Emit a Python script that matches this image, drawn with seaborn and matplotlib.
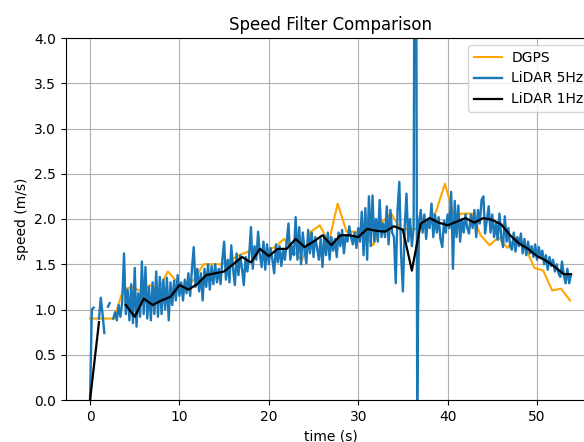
import numpy as np
import pandas as pd
import matplotlib
matplotlib.use("Agg")
import matplotlib.pyplot as plt
import seaborn as sns

# DGPS reference speed (about 1 Hz)
dgps_time = np.r_[0.0, np.arange(1.7, 54.0, 1.0)]
dgps_speed = [
    0.90, 0.90, 0.90, 1.22, 1.25, 1.20, 1.27, 1.22, 1.42, 1.31,
    1.24, 1.34, 1.50, 1.50, 1.50, 1.55, 1.60, 1.64, 1.68, 1.65,
    1.69, 1.78, 1.65, 1.54, 1.86, 1.93, 1.74, 2.17, 1.86, 1.86,
    1.82, 1.71, 1.97, 2.06, 1.89, 1.89, 1.89, 1.96, 2.08, 2.39,
    2.04, 2.06, 2.06, 1.82, 1.71, 1.80, 1.68, 1.80, 1.69, 1.46,
    1.43, 1.21, 1.23, 1.10,
]

# LiDAR speed at 5 Hz (NaN = no estimate)
nan = np.nan
lidar5_time = np.arange(270) * 0.2
lidar5_speed = [
    0.00, 1.00, 1.02, nan, nan, 0.90, 1.13, 0.95, 0.74, nan,
    1.03, 1.07, nan, 0.90, 0.97, 0.88, 1.05, 0.92, 1.08, 1.62,
    0.95, 1.22, 0.88, 1.28, 0.85, 1.46, 0.81, 1.18, 0.92, 1.53,
    0.95, 1.47, 0.90, 1.25, 0.88, 1.30, 0.95, 1.42, 0.92, 1.36,
    0.95, 1.33, 1.00, 1.35, 0.88, 1.30, 1.05, 1.32, 1.10, 1.38,
    1.15, 1.30, 1.10, 1.33, 1.18, 1.40, 1.15, 1.45, 1.69, 1.25,
    1.45, 1.20, 1.40, 1.10, 1.45, 1.25, 1.50, 1.22, 1.48, 1.28,
    1.50, 1.30, 1.45, 1.28, 1.55, 1.75, 1.33, 1.55, 1.30, 1.71,
    1.45, 1.27, 1.62, 1.38, 1.60, 1.45, 1.27, 1.58, 1.42, 1.60,
    1.91, 1.45, 1.70, 1.55, 1.86, 1.60, 1.47, 1.75, 1.44, 1.72,
    1.50, 1.68, 1.55, 1.40, 1.72, 1.52, 1.70, 1.48, 1.65, 1.55,
    1.75, 1.95, 1.55, 1.70, 1.60, 2.02, 1.55, 1.91, 1.50, 1.85,
    1.65, 1.51, 1.88, 1.62, 1.85, 1.58, 1.80, 1.68, 1.55, 1.78,
    1.47, 1.82, 1.60, 1.85, 1.55, 1.80, 1.65, 1.78, 1.58, 1.85,
    1.70, 1.88, 1.62, 1.82, 1.75, 1.92, 1.80, 1.72, 1.85, 1.68,
    1.90, 1.75, 2.08, 1.60, 2.12, 1.55, 2.25, 1.70, 2.26, 1.75,
    2.00, 1.75, 2.21, 1.80, 1.95, 1.80, 2.14, 1.72, 2.10, 1.85,
    1.80, 1.29, 2.10, 2.41, 1.60, 1.20, 1.90, 2.28, 1.75, 2.00,
    1.70, 1.90, 9.00, 0.00, 1.97, 2.10, 1.85, 2.05, 1.78, 2.00,
    1.90, 2.17, 1.80, 2.05, 1.85, 2.02, 1.78, 1.69, 1.98, 1.85,
    2.05, 1.90, 2.30, 1.45, 2.20, 1.80, 2.15, 1.75, 2.00, 1.85,
    2.05, 1.90, 1.84, 2.05, 1.90, 2.10, 1.80, 2.10, 1.95, 2.21,
    2.25, 1.84, 2.00, 2.14, 1.85, 2.05, 1.80, 1.95, 1.77, 2.06,
    1.80, 1.69, 2.03, 1.75, 1.90, 1.70, 1.66, 1.85, 1.64, 1.80,
    1.70, 1.84, 1.62, 1.78, 1.60, 1.75, 1.62, 1.70, 1.58, 1.72,
    1.55, 1.69, 1.58, 1.65, 1.50, 1.60, 1.44, 1.58, 1.48, 1.55,
    1.42, 1.50, 1.40, 1.36, 1.53, 1.38, 1.29, 1.45, 1.29, 1.38,
]

# LiDAR speed at 1 Hz
lidar1_time = np.r_[np.arange(54.0), 53.8]
lidar1_speed = [
    0.00, 0.86, nan, nan, 1.05, 0.92, 1.12, 1.05, 1.10, 1.14,
    1.27, 1.22, 1.28, 1.38, 1.40, 1.42, 1.50, 1.58, 1.52, 1.67,
    1.59, 1.67, 1.67, 1.78, 1.69, 1.75, 1.82, 1.71, 1.82, 1.82,
    1.80, 1.89, 1.87, 1.86, 1.92, 1.88, 1.43, 1.95, 2.01, 1.96,
    1.93, 1.97, 2.01, 1.96, 2.01, 1.99, 1.94, 1.82, 1.73, 1.67,
    1.59, 1.54, 1.47, 1.39, 1.39,
]


def segmented(t, v):
    """Frame with a segment id so gaps (NaN) break the line."""
    df = pd.DataFrame({"time": t, "speed": np.asarray(v, dtype=float)})
    df["seg"] = df["speed"].isna().cumsum()
    return df.dropna()


fig = plt.figure(figsize=(5.84, 4.42), dpi=100)
ax = fig.add_axes([66 / 584, 42 / 442, 529 / 584, 362 / 442])

series = [
    ("DGPS", dgps_time, dgps_speed, "orange", 1.5),
    ("LiDAR 5Hz", lidar5_time, lidar5_speed, "#1a78b8", 1.7),
    ("LiDAR 1Hz", lidar1_time, lidar1_speed, "black", 1.6),
]
for name, t, v, color, lw in series:
    sns.lineplot(data=segmented(t, v), x="time", y="speed", units="seg",
                 estimator=None, sort=False, color=color, linewidth=lw,
                 label=name, ax=ax, legend=False)

ax.set_ylim(0, 4.0)
ax.set_xticks([0, 10, 20, 30, 40, 50])
ax.grid(True)
ax.set_title("Speed Filter Comparison")
ax.set_xlabel("time (s)")
ax.set_ylabel("speed (m/s)")

handles, labels = ax.get_legend_handles_labels()
seen = {}
for h, l in zip(handles, labels):
    seen.setdefault(l, h)
ax.legend(list(seen.values()), list(seen.keys()), loc="upper right",
          handletextpad=0.7, bbox_to_anchor=(1.0 + 1 / 529, 1.0))

fig.savefig("out.png", dpi=100)
